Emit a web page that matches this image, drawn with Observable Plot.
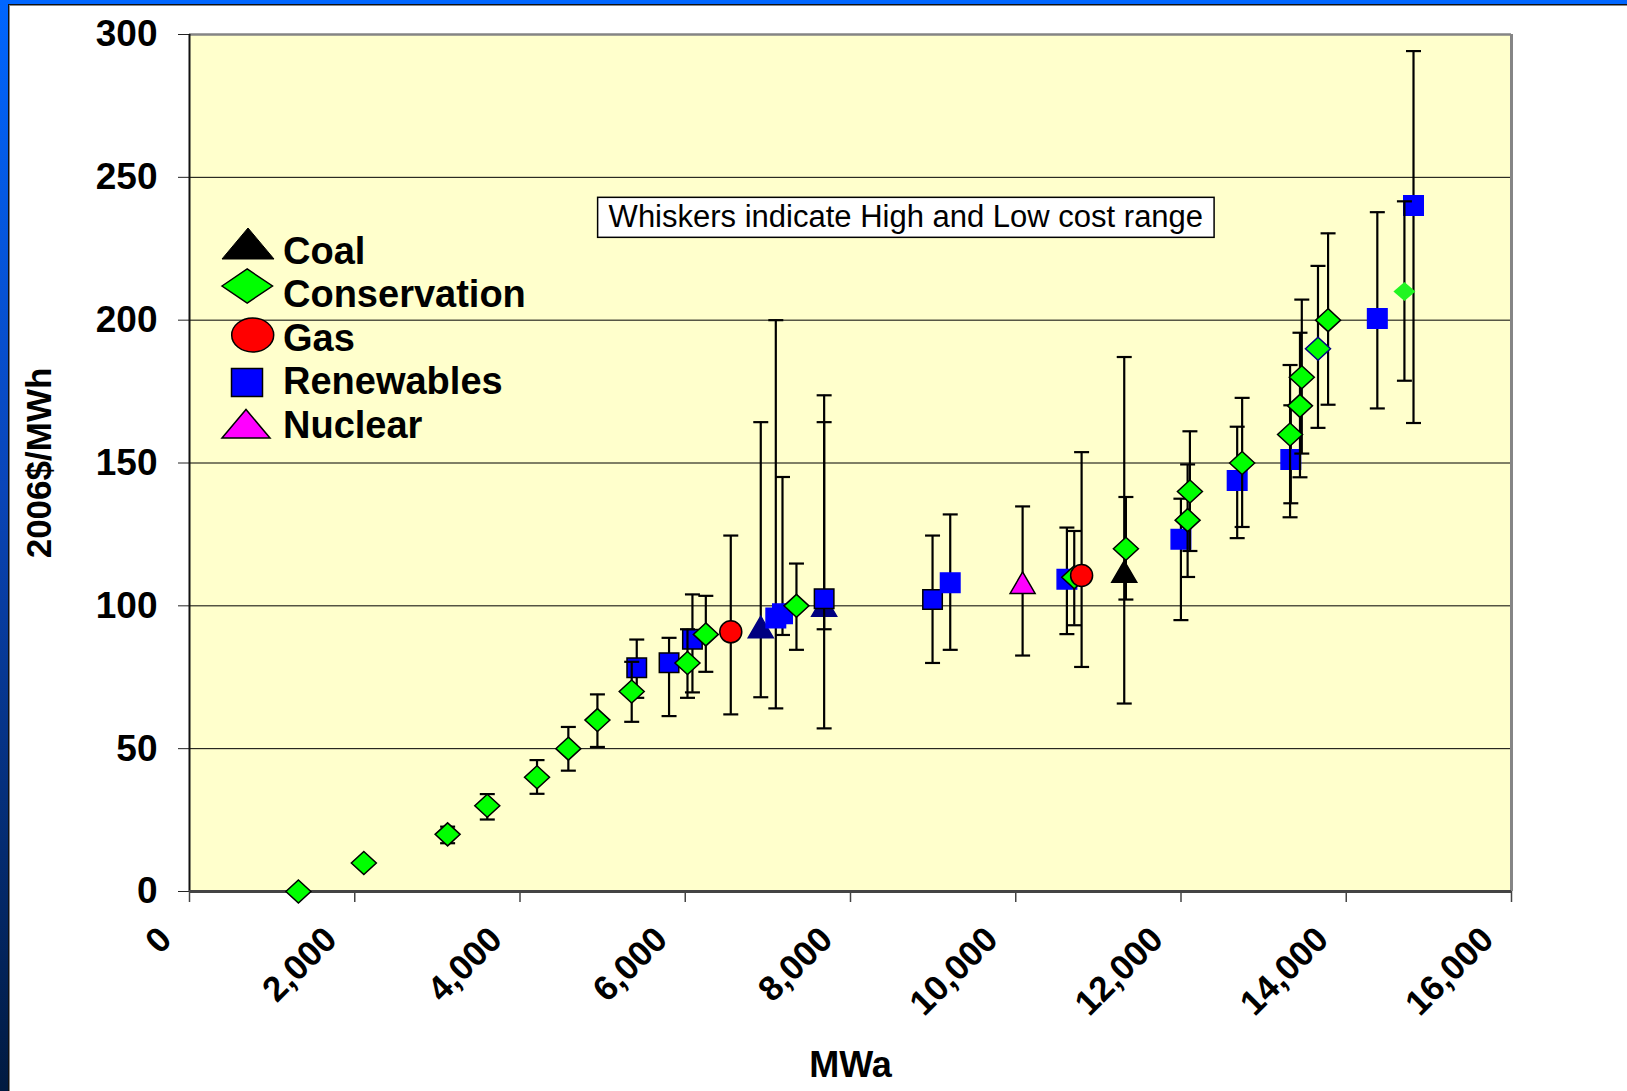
<!DOCTYPE html>
<html><head><meta charset="utf-8">
<script src="https://cdn.jsdelivr.net/npm/d3@7"></script>
<script src="https://cdn.jsdelivr.net/npm/@observablehq/plot@0.6"></script>
<style>
html,body{margin:0;padding:0;background:#fff;}
#wrap{position:relative;width:1627px;height:1091px;overflow:hidden;background:#fff;}
#chart{position:absolute;left:0;top:0;}
.bd{position:absolute;}
</style></head><body>
<div id="wrap">
<div id="chart"></div>
<div class="bd" style="left:0;top:0;width:8px;height:1091px;background:linear-gradient(#0066ff,#0a45b8 45%,#001a40);"></div>
<div class="bd" style="left:8px;top:4px;width:1px;height:1087px;background:#111;"></div>
<div class="bd" style="left:9px;top:5px;width:1px;height:1086px;background:#8a8a8a;"></div>
<div class="bd" style="left:0;top:0;width:1627px;height:4px;background:#0066ff;"></div>
<div class="bd" style="left:8px;top:4px;width:1619px;height:1px;background:#111;"></div>
<div class="bd" style="left:9px;top:5px;width:1618px;height:1px;background:#8a8a8a;"></div>
</div>
<script>
// ---------- DATA ----------
const seriesNames = ["Coal", "Conservation", "Gas", "Renewables", "Nuclear"];

const coalMWa  = [6914, 7681, 11313];
const coalCost = [92.5, 100, 111.9];
const coalLow  = [68.0, 91.8, 65.8];
const coalHigh = [164.3, 164.3, 187.1];

const consMWa  = [1318, 2110, 3124, 3604, 4206, 4585, 4937, 5352, 6027, 6249, 7346, 10708, 11333, 12080, 12108, 12740, 13320, 13440, 13462, 13658, 13780, 14704];
const consCost = [0, 10, 20, 30, 40, 50, 60, 70, 80, 90, 100, 110, 120, 130, 140, 150, 160, 170, 180, 190, 200, 210];
const consLow  = [null, null, 16.9, 25.2, 34.2, 42.3, 50.6, 59.4, 67.8, 76.9, 84.6, 93.2, 102.2, 110.1, 119.2, 127.6, 131, 145, 153.3, 162.3, 170.4, 178.8];
const consHigh = [null, null, 22.7, 34.1, 46.0, 57.6, 69.0, 80.4, 91.8, 103.5, 114.8, 126.2, 138.1, 149.5, 161.1, 172.8, 184.3, 195.6, 207.2, 219, 230.4, 241.6];

const gasMWa  = [6551, 10797];
const gasCost = [90.9, 110.6];
const gasLow  = [62.0, 78.6];
const gasHigh = [124.6, 153.8];

const renMWa  = [5413, 5804, 6087, 7096, 7177, 7681, 8993, 9207, 10619, 11999, 12680, 13329, 14376, 14814];
const renCost = [78.3, 80.1, 88.3, 95.7, 97.2, 102.5, 102.2, 108.1, 109.3, 123.3, 143.9, 151.2, 200.6, 240.1];
const renLow  = [67.8, 61.4, 69.7, 64.1, 89.8, 57.1, 80.0, 84.6, 90.1, 95.0, 123.7, 135.9, 169.1, 164.0];
const renHigh = [88.2, 88.8, 104.0, 200.0, 145.1, 173.7, 124.6, 132.0, 127.4, 137.5, 162.7, 170.2, 237.8, 294.2];

const nucMWa  = [10083];
const nucCost = [108];
const nucLow  = [82.6];
const nucHigh = [134.8];

const xTicks = [0, 2000, 4000, 6000, 8000, 10000, 12000, 14000, 16000];
const yTicks = [0, 50, 100, 150, 200, 250, 300];
const xLabel = "MWa";
const yLabel = "2006$/MWh";
const noteText = "Whiskers indicate High and Low cost range";
const notePos = {x: 8670, y: 236};

// ---------- STYLES ----------
const coalFills = ["#000080", "#000080", "#000000"];
const renOutlined = [true, true, true, false, false, true, true, false, false, false, false, false, false, false];
const consStroke = i => i === 19 ? "#000080" : "#000";

function rows(xs, ys, lo, hi) {
  return xs.map((x, i) => ({x, y: ys[i], lo: lo[i], hi: hi[i], i}));
}
const coal = rows(coalMWa, coalCost, coalLow, coalHigh);
const cons = rows(consMWa, consCost, consLow, consHigh);
const gas = rows(gasMWa, gasCost, gasLow, gasHigh);
const ren = rows(renMWa, renCost, renLow, renHigh);
const nuc = rows(nucMWa, nucCost, nucLow, nucHigh);
const consLast = cons.length - 1;

const cap = {draw(c) { c.moveTo(-7.5, 0); c.lineTo(7.5, 0); }};
const tri = {draw(c) { c.moveTo(0, -11); c.lineTo(12.5, 10.5); c.lineTo(-12.5, 10.5); c.closePath(); }};
const dia = {draw(c) { c.moveTo(0, -11.5); c.lineTo(12.5, 0); c.lineTo(0, 11.5); c.lineTo(-12.5, 0); c.closePath(); }};
const dia2 = {draw(c) { c.moveTo(0, -9.5); c.lineTo(11, 0); c.lineTo(0, 9.5); c.lineTo(-11, 0); c.closePath(); }};
const sq  = {draw(c) { c.rect(-9.75, -9.75, 19.5, 19.5); }};

function whiskers(data) {
  const b = data.filter(d => d.lo != null);
  return [
    Plot.ruleX(b, {x: "x", y1: "lo", y2: "hi", stroke: "#000", strokeWidth: 2.2}),
    Plot.dot(b, {x: "x", y: "lo", symbol: cap, stroke: "#000", strokeWidth: 2.2, fill: "none"}),
    Plot.dot(b, {x: "x", y: "hi", symbol: cap, stroke: "#000", strokeWidth: 2.2, fill: "none"})
  ];
}

const fmt = d3.format(",");
const FONT = "'Liberation Sans', Arial, sans-serif";

const plot = Plot.plot({
  width: 1627,
  height: 1091,
  marginLeft: 189,
  marginRight: 116,
  marginTop: 34,
  marginBottom: 200,
  style: {fontFamily: FONT, fontWeight: "bold", background: "transparent", overflow: "visible", color: "#000"},
  x: {domain: [xTicks[0], xTicks[xTicks.length - 1]]},
  y: {domain: [yTicks[0], yTicks[yTicks.length - 1]]},
  color: {type: "identity"},
  marks: [
    Plot.frame({fill: "#ffffcc", stroke: null}),
    Plot.ruleY(yTicks.slice(1, -1), {stroke: "#000", strokeWidth: 1}),
    Plot.ruleY(yTicks.slice(-1), {stroke: "#858585", strokeWidth: 2.5}),
    Plot.ruleX(xTicks.slice(-1), {stroke: "#858585", strokeWidth: 3}),
    Plot.axisY({ticks: yTicks, tickSize: 11, tickPadding: 21, fontSize: 37, fontWeight: "bold", label: null, stroke: "#222"}),
    Plot.axisX({ticks: xTicks, tickSize: 11, tickFormat: () => "", label: null, stroke: "#444", strokeWidth: 1.5}),
    Plot.ruleX(xTicks.slice(0, 1), {stroke: "#111", strokeWidth: 2}),
    Plot.ruleY(yTicks.slice(0, 1), {stroke: "#444", strokeWidth: 3}),
    Plot.text(xTicks, {x: d => d, y: yTicks[0], text: d => fmt(d), rotate: -45, textAnchor: "end", lineAnchor: "bottom", dx: -16, dy: 50, fontSize: 35, fontWeight: "bold", fill: "#000"}),
    // Coal
    ...whiskers(coal),
    Plot.dot(coal, {x: "x", y: "y", symbol: tri, fill: d => coalFills[d.i], stroke: d => coalFills[d.i], strokeWidth: 1.5}),
    // Renewables
    ...whiskers(ren),
    Plot.dot(ren, {x: "x", y: "y", symbol: sq, fill: "#0000ff", stroke: d => renOutlined[d.i] ? "#000" : "#0000ff", strokeWidth: 1.5}),
    // Conservation
    ...whiskers(cons),
    Plot.dot(cons.filter(d => d.i !== consLast), {x: "x", y: "y", symbol: dia, fill: "#00ff00", stroke: d => consStroke(d.i), strokeWidth: 1.5}),
    Plot.dot(cons.filter(d => d.i === consLast), {x: "x", y: "y", symbol: dia2, fill: "#22f522", stroke: "none"}),
    // Gas
    ...whiskers(gas),
    Plot.dot(gas, {x: "x", y: "y", r: 11, fill: "#ff0000", stroke: "#000", strokeWidth: 1.5}),
    // Nuclear
    ...whiskers(nuc),
    Plot.dot(nuc, {x: "x", y: "y", symbol: tri, fill: "#ff00ff", stroke: "#000", strokeWidth: 1.5}),
    // Annotation
    Plot.text([{...notePos, t: noteText}], {x: "x", y: "y", text: "t", fontSize: 31, fontWeight: "normal", fill: "#000", className: "note"}),
    // Axis titles
    Plot.text([yLabel], {frameAnchor: "left", rotate: -90, dx: -150, textAnchor: "middle", lineAnchor: "middle", fontSize: 35, fontWeight: "bold", fill: "#000"}),
    Plot.text([xLabel], {frameAnchor: "bottom", dy: 174, textAnchor: "middle", lineAnchor: "middle", fontSize: 36, fontWeight: "bold", fill: "#000"})
  ]
});

document.getElementById("chart").appendChild(plot);

const svg = d3.select(plot);

// annotation box (sized from the rendered text)
const noteNode = svg.select("g.note text").node();
if (noteNode) {
  const w = noteNode.getComputedTextLength();
  const cx = plot.scale("x").apply(notePos.x);
  const cy = plot.scale("y").apply(notePos.y);
  svg.select("g.note").insert("rect", "text")
    .attr("x", cx - w / 2 - 11).attr("y", cy - 20)
    .attr("width", w + 22).attr("height", 40)
    .attr("fill", "#fff").attr("stroke", "#000").attr("stroke-width", 1.5);
}

// legend
const lg = svg.append("g").attr("font-family", FONT).attr("font-weight", "bold").attr("text-anchor", "start");
const legendItems = [
  {name: seriesNames[0], base: 264, draw: g => g.append("path").attr("d", "M222,259L274,259L248,228Z").attr("fill", "#000").attr("stroke", "#000")},
  {name: seriesNames[1], base: 307, draw: g => g.append("path").attr("d", "M222,286L247.2,269L272.5,286L247.2,303Z").attr("fill", "#00ff00").attr("stroke", "#000").attr("stroke-width", 1.5)},
  {name: seriesNames[2], base: 350.5, draw: g => g.append("ellipse").attr("cx", 252.7).attr("cy", 335).attr("rx", 21).attr("ry", 17).attr("fill", "#ff0000").attr("stroke", "#000").attr("stroke-width", 1.5)},
  {name: seriesNames[3], base: 394, draw: g => g.append("rect").attr("x", 231.5).attr("y", 368.5).attr("width", 31).attr("height", 28).attr("fill", "#0000ff").attr("stroke", "#000").attr("stroke-width", 1.5)},
  {name: seriesNames[4], base: 437.5, draw: g => g.append("path").attr("d", "M222,438L270,438L246,409.5Z").attr("fill", "#ff00ff").attr("stroke", "#000").attr("stroke-width", 1.5)}
];
for (const it of legendItems) {
  it.draw(lg);
  lg.append("text").attr("x", 283).attr("y", it.base).attr("font-size", 38).attr("fill", "#000").attr("text-anchor", "start").text(it.name);
}
</script>
</body></html>
